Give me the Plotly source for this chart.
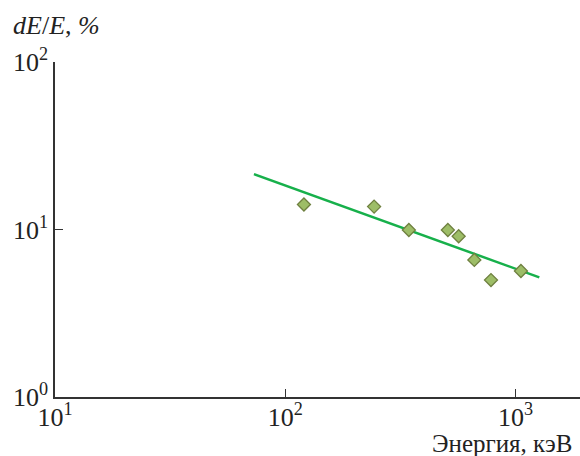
import plotly.graph_objects as go

# Data
energy_kev = [120.5, 243, 344, 508, 566, 662, 782, 1055]
resolution_pct = [14.1, 13.7, 9.93, 9.93, 9.11, 6.58, 4.99, 5.65]

fit_energy = [73.1, 1268]
fit_resolution = [21.4, 5.18]

tick_vals_x = [10, 100, 1000]
tick_text_x = ["10<sup>1</sup>", "10<sup>2</sup>", "10<sup>3</sup>"]
tick_vals_y = [1, 10, 100]
tick_text_y = ["10<sup>0</sup>", "10<sup>1</sup>", "10<sup>2</sup>"]

x_title = "Энергия, кэВ"
y_title = "<i>dE</i>/<i>E</i>, <i>%</i>"

FONT = "Liberation Serif, Times New Roman, serif"

fig = go.Figure()
fig.add_trace(go.Scatter(
    x=fit_energy, y=fit_resolution, mode="lines",
    line=dict(color="#17b04b", width=2.5), showlegend=False,
))
fig.add_trace(go.Scatter(
    x=energy_kev, y=resolution_pct, mode="markers",
    marker=dict(symbol="diamond", size=10, color="#9dbd67",
                line=dict(color="#6f8040", width=1.3)),
    showlegend=False,
))

fig.update_layout(
    width=580, height=456,
    margin=dict(l=55, r=0, t=62, b=59),
    plot_bgcolor="white", paper_bgcolor="white",
    font=dict(family=FONT, size=26, color="#222"),
    xaxis=dict(
        type="log", range=[1, 3.2797],
        tickvals=tick_vals_x, ticktext=tick_text_x,
        ticks="inside", ticklen=8, tickwidth=1.2, tickcolor="#333",
        showline=True, linecolor="#333", linewidth=1.5,
        showgrid=False, zeroline=False, ticklabelstandoff=-4,
        tickfont=dict(family=FONT, size=26, color="#222"),
    ),
    yaxis=dict(
        type="log", range=[0, 2],
        tickvals=tick_vals_y, ticktext=tick_text_y,
        ticks="inside", ticklen=8, tickwidth=1.2, tickcolor="#333",
        showline=True, linecolor="#333", linewidth=1.5,
        showgrid=False, zeroline=False,
        tickfont=dict(family=FONT, size=26, color="#222"),
    ),
    annotations=[
        dict(text=x_title, xref="paper", yref="paper", x=1, y=0,
             xanchor="right", yanchor="middle", yshift=-46, xshift=-6,
             showarrow=False, font=dict(family=FONT, size=25, color="#222")),
        dict(text=y_title, xref="paper", yref="paper", x=0, y=1,
             xanchor="left", yanchor="middle", xshift=-44, yshift=37,
             showarrow=False, font=dict(family=FONT, size=26, color="#222")),
    ],
)

fig.write_html("out.html")
